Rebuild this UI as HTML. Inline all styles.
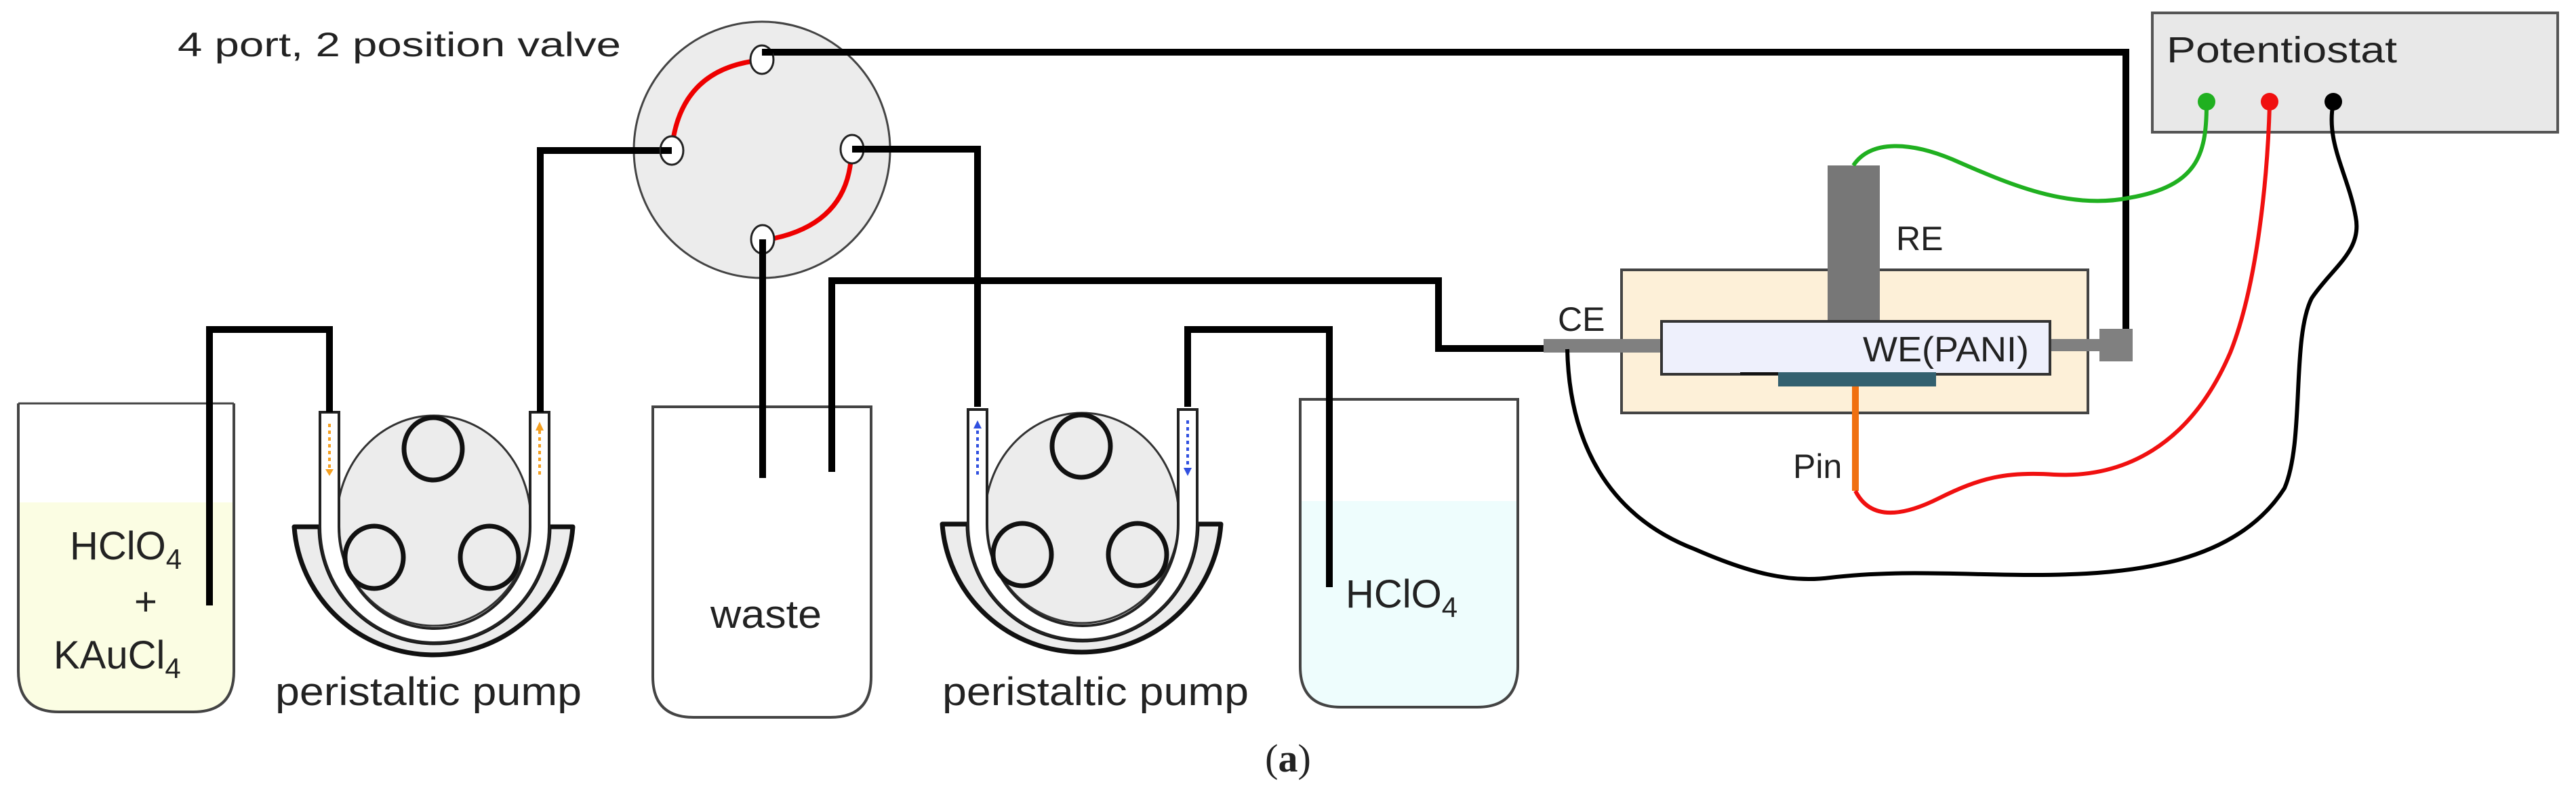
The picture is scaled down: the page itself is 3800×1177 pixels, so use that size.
<!DOCTYPE html>
<html><head><meta charset="utf-8"><style>
html,body{margin:0;padding:0;background:#fff;}
svg{display:block;}
text{font-family:"Liberation Sans",Arial,sans-serif;fill:#222;}
</style></head><body>
<svg width="3800" height="1177" viewBox="0 0 3800 1177" xmlns="http://www.w3.org/2000/svg">
<defs>
<g id="pump">
  <!-- rotor -->
  <ellipse cx="640" cy="768" rx="143" ry="155" fill="#ececec" stroke="#333" stroke-width="3"/>
  <!-- shoe -->
  <path d="M434 777 L472 777 A168 170 0 0 0 810 777 L845 777 A206 203 0 0 1 434 777 Z" fill="#ececec" stroke="#111" stroke-width="7" stroke-linejoin="round"/>
  <!-- tube -->
  <path d="M472 608 L472 777 A168 170 0 0 0 810 777 L810 608 L782 608 L782 777 A141 150 0 0 1 500 777 L500 608 Z" fill="#fff" stroke="#222" stroke-width="4"/>
  <!-- rollers -->
  <ellipse cx="639" cy="662" rx="43" ry="46" fill="#ececec" stroke="#111" stroke-width="7"/>
  <ellipse cx="552" cy="822" rx="43" ry="46" fill="#ececec" stroke="#111" stroke-width="7"/>
  <ellipse cx="722" cy="822" rx="43" ry="46" fill="#ececec" stroke="#111" stroke-width="7"/>
</g>
</defs>

<!-- beakers -->
<path d="M27 741 L345 741 L345 990 Q345 1050 285 1050 L87 1050 Q27 1050 27 990 Z" fill="#fbfde3"/>
<path d="M27 595 L27 990 Q27 1050 87 1050 L285 1050 Q345 1050 345 990 L345 595" fill="none" stroke="#444" stroke-width="4"/>
<line x1="27" y1="595" x2="345" y2="595" stroke="#444" stroke-width="3"/>

<path d="M963 600 L963 998 Q963 1058 1023 1058 L1225 1058 Q1285 1058 1285 998 L1285 600 Z" fill="#fff" stroke="#444" stroke-width="4"/>

<path d="M1918 739 L2239 739 L2239 983 Q2239 1043 2179 1043 L1978 1043 Q1918 1043 1918 983 Z" fill="#eefdfd"/>
<path d="M1918 589 L1918 983 Q1918 1043 1978 1043 L2179 1043 Q2239 1043 2239 983 L2239 589 Z" fill="none" stroke="#444" stroke-width="4"/>

<!-- pumps -->
<use href="#pump"/>
<use href="#pump" transform="translate(956,-4)"/>
<!-- flow arrows -->
<line x1="486" y1="625" x2="486" y2="692" stroke="#f5a020" stroke-width="4" stroke-dasharray="5 5"/>
<path d="M480 692 L492 692 L486 702 Z" fill="#f5a020"/>
<line x1="796" y1="700" x2="796" y2="635" stroke="#f5a020" stroke-width="4" stroke-dasharray="5 5"/>
<path d="M790 635 L802 635 L796 622 Z" fill="#f5a020"/>
<line x1="1442" y1="700" x2="1442" y2="632" stroke="#3050e0" stroke-width="4" stroke-dasharray="5 5"/>
<path d="M1436 632 L1448 632 L1442 620 Z" fill="#3050e0"/>
<line x1="1752" y1="620" x2="1752" y2="690" stroke="#3050e0" stroke-width="4" stroke-dasharray="5 5"/>
<path d="M1746 690 L1758 690 L1752 702 Z" fill="#3050e0"/>

<!-- valve -->
<circle cx="1124" cy="221" r="189" fill="#ececec" stroke="#444" stroke-width="3"/>
<path d="M1112 90 Q1010 105 993 205" fill="none" stroke="#e00" stroke-width="7"/>
<path d="M1255 238 Q1245 330 1140 352" fill="none" stroke="#e00" stroke-width="7"/>

<!-- black lines -->
<g fill="none" stroke="#000" stroke-width="10" stroke-linejoin="miter">
  <path d="M1124 77 L3136 77 L3136 510"/>
  <path d="M991 222 L797 222 L797 608"/>
  <path d="M486 608 L486 486 L309 486 L309 893"/>
  <path d="M1257 220 L1442 220 L1442 600"/>
  <path d="M1125 353 L1125 705"/>
  <path d="M1227 696 L1227 414 L2122 414 L2122 514 L2280 514"/>
  <path d="M1752 600 L1752 486 L1961 486 L1961 866"/>
</g>
<!-- ports -->
<ellipse cx="1124" cy="88" rx="17" ry="21" fill="#fff" stroke="#222" stroke-width="3"/>
<ellipse cx="991" cy="222" rx="17" ry="21" fill="#fff" stroke="#222" stroke-width="3"/>
<ellipse cx="1257" cy="220" rx="17" ry="21" fill="#fff" stroke="#222" stroke-width="3"/>
<ellipse cx="1125" cy="353" rx="17" ry="21" fill="#fff" stroke="#222" stroke-width="3"/>
<line x1="1124" y1="77" x2="1140" y2="77" stroke="#000" stroke-width="10"/>
<line x1="991" y1="222" x2="975" y2="222" stroke="#000" stroke-width="10"/>
<line x1="1257" y1="220" x2="1275" y2="220" stroke="#000" stroke-width="10"/>
<line x1="1125" y1="353" x2="1125" y2="380" stroke="#000" stroke-width="10"/>

<!-- cell -->
<rect x="2392" y="398" width="688" height="211" fill="#fdf0d8" stroke="#444" stroke-width="4"/>
<rect x="2696" y="244" width="77" height="232" fill="#777"/>
<rect x="2277" y="500" width="176" height="20" fill="#808080"/>
<rect x="3022" y="500" width="78" height="18" fill="#808080"/>
<rect x="3097" y="485" width="49" height="48" fill="#808080"/>
<rect x="2451" y="474" width="573" height="78" fill="#eef0fc" stroke="#333" stroke-width="4"/>
<line x1="2567" y1="551" x2="2624" y2="551" stroke="#111" stroke-width="4"/>
<rect x="2623" y="549" width="233" height="21" fill="#33606f"/>
<rect x="2732" y="570" width="10" height="154" fill="#f07010"/>

<!-- potentiostat -->
<rect x="3175" y="19" width="598" height="176" fill="#e8e8e8" stroke="#555" stroke-width="4"/>
<g fill="none" stroke-width="6">
  <path d="M2734 244 C2760 205 2820 210 2880 235 C2960 270 3050 310 3140 292 C3240 275 3255 230 3255 155" stroke="#20b020"/>
  <path d="M2737 724 C2760 770 2810 760 2860 735 C2920 705 2960 695 3030 700 C3130 705 3230 660 3290 520 C3330 420 3345 260 3348 155" stroke="#f01010"/>
  <path d="M2312 515 C2315 650 2370 760 2500 810 C2580 845 2640 860 2700 852 C2800 840 2900 848 3000 848 C3150 848 3300 830 3370 720 C3400 650 3380 500 3410 440 C3440 395 3485 370 3475 320 C3465 260 3430 210 3442 152" stroke="#000"/>
</g>
<circle cx="3255" cy="150" r="13" fill="#20b020"/>
<circle cx="3348" cy="150" r="13" fill="#f01010"/>
<circle cx="3442" cy="150" r="13" fill="#000"/>

<!-- labels -->
<text x="262" y="83" font-size="50" textLength="654" lengthAdjust="spacingAndGlyphs">4 port, 2 position valve</text>
<text x="406" y="1040" font-size="58" textLength="452" lengthAdjust="spacingAndGlyphs">peristaltic pump</text>
<text x="1390" y="1040" font-size="58" textLength="452" lengthAdjust="spacingAndGlyphs">peristaltic pump</text>
<text x="1048" y="926" font-size="58" textLength="164" lengthAdjust="spacingAndGlyphs">waste</text>
<text x="103" y="825" font-size="58">HClO<tspan font-size="42" dy="14">4</tspan></text>
<text x="198" y="907" font-size="58">+</text>
<text x="79" y="986" font-size="58">KAuCl<tspan font-size="42" dy="14">4</tspan></text>
<text x="1985" y="896" font-size="58">HClO<tspan font-size="42" dy="14">4</tspan></text>
<text x="3196" y="92" font-size="54" textLength="340" lengthAdjust="spacingAndGlyphs">Potentiostat</text>
<text x="2797" y="369" font-size="50">RE</text>
<text x="2748" y="533" font-size="52" textLength="245" lengthAdjust="spacingAndGlyphs">WE(PANI)</text>
<text x="2298" y="488" font-size="50">CE</text>
<text x="2645" y="705" font-size="50">Pin</text>
<text x="1900" y="1138" font-size="58" text-anchor="middle" style="font-family:'Liberation Serif',serif">(<tspan font-weight="bold">a</tspan>)</text>
</svg>
</body></html>
